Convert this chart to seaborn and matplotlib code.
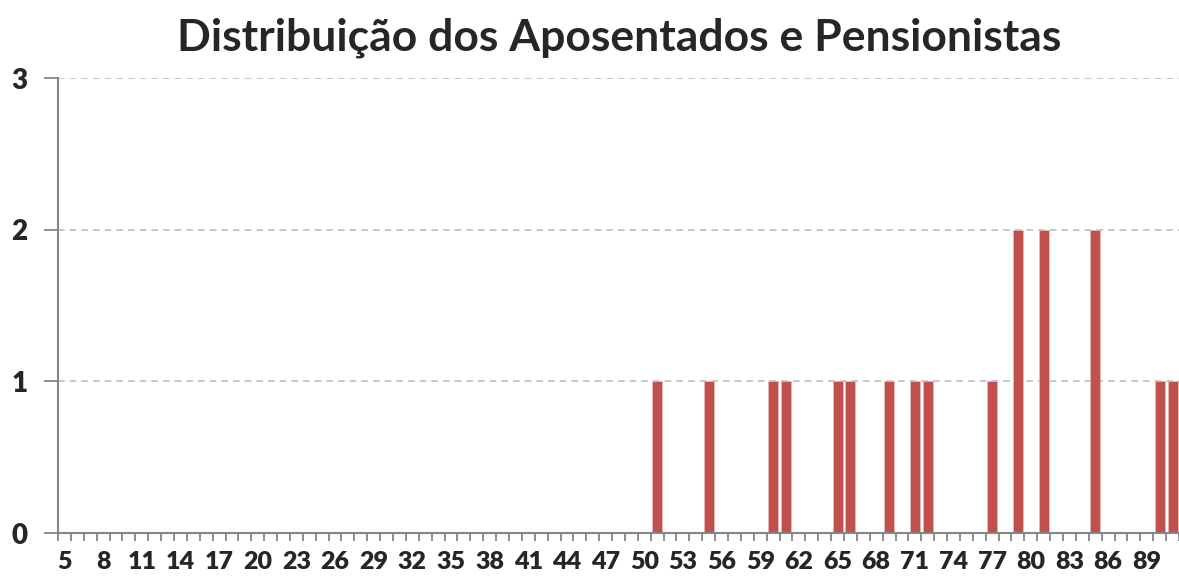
import matplotlib
matplotlib.use("Agg")
import matplotlib.pyplot as plt
import numpy as np
import pandas as pd
import seaborn as sns

# Ages 5..91, count of retirees/pensioners per age
ages = list(range(5, 92))
counts_by_age = {51: 1, 55: 1, 60: 1, 61: 1, 65: 1, 66: 1, 69: 1, 71: 1,
                 72: 1, 77: 1, 79: 2, 81: 2, 85: 2, 90: 1, 91: 1}
counts = [counts_by_age.get(a, 0) for a in ages]
tick_labels = [str(a) for a in ages[::3]]

df = pd.DataFrame({"Idade": [str(a) for a in ages], "Quantidade": counts})

sns.set_style("white")
plt.rcParams["font.family"] = ["Lato", "DejaVu Sans"]

W, H = 1179, 578
fig = plt.figure(figsize=(W / 100, H / 100), dpi=100)
ax = fig.add_axes([58 / W, (H - 533) / H, (W - 58) / W, (533 - 78) / H])

sns.barplot(data=df, x="Idade", y="Quantidade", order=df["Idade"], color="#C0504D",
            saturation=1, width=0.78, edgecolor="#E6B9B8", linewidth=0.6, ax=ax)

ax.set_xlim(-0.5, len(ages) - 0.5)
ax.set_ylim(0, 3)
ax.set_yticks([0, 1, 2, 3])
ax.yaxis.grid(True, linestyle=(0, (4, 3)), color="#BFBFBF", linewidth=1.2)
ax.set_axisbelow(True)

# labels every third category, tick marks at every category boundary
ax.set_xticks(np.arange(0, len(ages), 3))
ax.set_xticklabels(tick_labels)
ax.set_xticks(np.arange(-0.5, len(ages), 1), minor=True)
ax.tick_params(axis="x", which="major", length=0, pad=13, labelsize=18)
ax.tick_params(axis="x", which="minor", length=6, width=1.3, color="#868686",
               direction="out", bottom=True)
ax.tick_params(axis="y", which="major", length=10, width=1.3, color="#868686",
               direction="out", left=True, pad=12, labelsize=20)
for lab in ax.get_xticklabels() + ax.get_yticklabels():
    lab.set_fontweight("heavy")

for s in ["top", "right"]:
    ax.spines[s].set_visible(False)
for s in ["left", "bottom"]:
    ax.spines[s].set_color("#868686")
    ax.spines[s].set_linewidth(1.5)

ax.set_xlabel("")
ax.set_ylabel("")
fig.text(619 / W, 1 - 38 / H, "Distribuição dos Aposentados e Pensionistas",
         ha="center", va="center", fontsize=32, fontweight="bold")

fig.savefig("out.png", dpi=100)
